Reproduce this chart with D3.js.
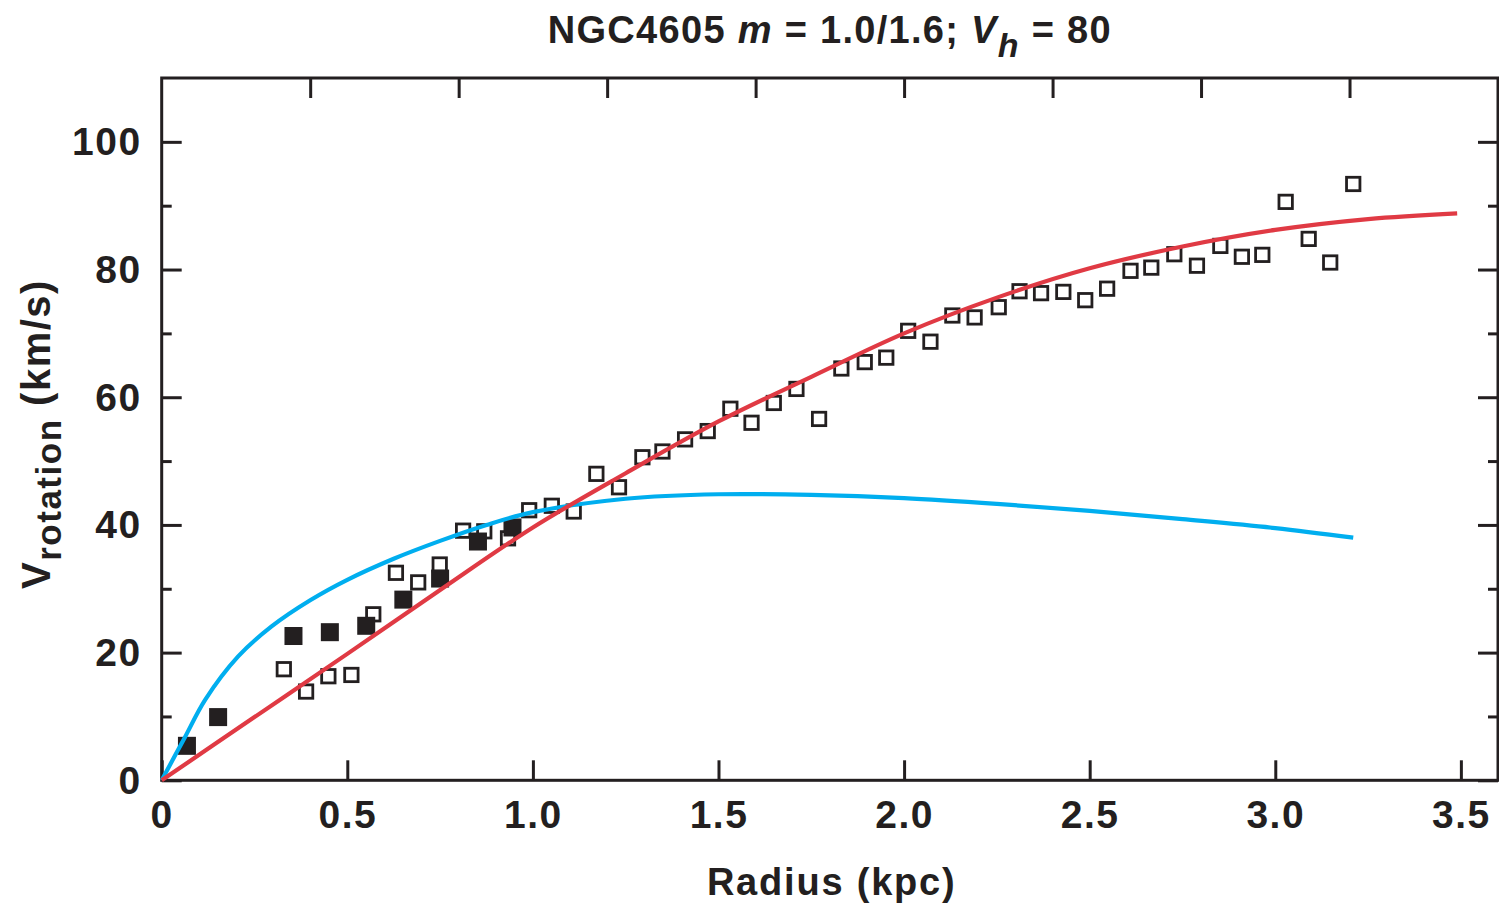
<!DOCTYPE html>
<html>
<head>
<meta charset="utf-8">
<script src="https://cdn.jsdelivr.net/npm/d3@7/dist/d3.min.js"></script>
<style>
  html, body { margin: 0; padding: 0; background: #ffffff; }
  svg text { font-family: "Liberation Sans", Arial, Helvetica, sans-serif; font-weight: bold; fill: #231f20; }
</style>
</head>
<body>
<svg id="chart" width="1499" height="906"></svg>
<script>
// ---- Data ----
const titleMain = "NGC4605 ";
const xTickValues = [0, 0.5, 1.0, 1.5, 2.0, 2.5, 3.0, 3.5];
const xTickLabels = ["0", "0.5", "1.0", "1.5", "2.0", "2.5", "3.0", "3.5"];
const xTopTickValues = [0.4, 0.8, 1.2, 1.6, 2.0, 2.4, 2.8, 3.2];
const yTickValues = [0, 20, 40, 60, 80, 100];
const yTickLabels = ["0", "20", "40", "60", "80", "100"];
const yMinorTickValues = [10, 30, 50, 70, 90];

// filled squares
const filledR = [0.068, 0.152, 0.355, 0.453, 0.551, 0.651, 0.750, 0.852, 0.945];
const filledV = [5.4, 9.9, 22.6, 23.2, 24.2, 28.3, 31.6, 37.4, 39.6];

// open squares
const openR = [0.329, 0.389, 0.449, 0.511, 0.570, 0.631, 0.691, 0.749, 0.812, 0.869,
  0.933, 0.990, 1.051, 1.110, 1.171, 1.232, 1.295, 1.349, 1.410, 1.471,
  1.532, 1.589, 1.649, 1.710, 1.771, 1.831, 1.894, 1.952, 2.011, 2.071,
  2.130, 2.190, 2.255, 2.311, 2.369, 2.429, 2.488, 2.547, 2.610, 2.666,
  2.728, 2.789, 2.852, 2.910, 2.965, 3.028, 3.090, 3.148, 3.210];
const openV = [17.4, 13.9, 16.3, 16.5, 26.0, 32.5, 31.0, 33.8, 39.1, 39.0,
  37.9, 42.3, 43.0, 42.1, 48.0, 45.9, 50.6, 51.5, 53.4, 54.7,
  58.2, 56.0, 59.1, 61.3, 56.6, 64.5, 65.5, 66.2, 70.4, 68.7,
  72.8, 72.5, 74.1, 76.6, 76.3, 76.5, 75.2, 77.0, 79.8, 80.3,
  82.4, 80.6, 83.7, 82.0, 82.3, 90.6, 84.8, 81.1, 93.4];

// model total (red)
const redR = [0, 0.25, 0.5, 0.75, 1.0, 1.25, 1.5, 1.75, 2.0, 2.25, 2.5, 2.75, 3.0, 3.25, 3.49];
const redV = [0, 9.9, 19.8, 29.8, 39.6, 48.1, 56.2, 63.2, 70.0, 75.6, 80.2, 83.6, 86.2, 87.9, 88.8];

// disk contribution (blue)
const blueR = [0, 0.063, 0.117, 0.206, 0.296, 0.4, 0.5, 0.625, 0.75, 0.875, 1.0, 1.25, 1.5, 1.75, 2.0, 2.25, 2.5, 2.75, 3.0, 3.21];
const blueV = [0, 6.8, 12.6, 19.4, 24.1, 28.2, 31.4, 34.7, 37.5, 40.0, 42.0, 44.1, 44.8, 44.7, 44.2, 43.3, 42.2, 40.9, 39.5, 38.0];

// ---- Layout ----
const L = 161.7, R = 1498, T = 78, B = 780.3;
const ink = "#231f20";
const svg = d3.select("#chart");

const x = d3.scaleLinear().domain([0, 3.6]).range([L, R]);
const y = d3.scaleLinear().domain([0, 110]).range([B, T]);

// Frame
svg.append("rect").attr("x", L).attr("y", T).attr("width", R - L).attr("height", B - T)
  .attr("fill", "none").attr("stroke", ink).attr("stroke-width", 3);

function styleAxis(g) {
  g.select(".domain").remove();
  g.selectAll(".tick line").attr("stroke", ink).attr("stroke-width", 3);
}

// bottom axis (labels)
const gx = svg.append("g").attr("transform", `translate(0,${B})`)
  .call(d3.axisBottom(x).tickValues(xTickValues).tickSize(-20).tickSizeOuter(0)
    .tickFormat((d, i) => xTickLabels[i]));
styleAxis(gx);
gx.selectAll(".tick text").attr("y", 48).attr("dy", 0)
  .style("font-size", "39px").style("letter-spacing", "1.5px").attr("fill", ink);

// top axis (ticks only)
const gt = svg.append("g").attr("transform", `translate(0,${T})`)
  .call(d3.axisTop(x).tickValues(xTopTickValues).tickSize(-20).tickSizeOuter(0).tickFormat(""));
styleAxis(gt);

// left axis
const gy = svg.append("g").attr("transform", `translate(${L},0)`)
  .call(d3.axisLeft(y).tickValues(yTickValues).tickSize(-20).tickSizeOuter(0).tickPadding(20)
    .tickFormat((d, i) => yTickLabels[i]));
styleAxis(gy);
gy.selectAll(".tick text").attr("dy", "0.33em")
  .style("font-size", "39px").style("letter-spacing", "1.5px").attr("fill", ink);
const gy2 = svg.append("g").attr("transform", `translate(${L},0)`)
  .call(d3.axisLeft(y).tickValues(yMinorTickValues).tickSize(-10).tickSizeOuter(0).tickFormat(""));
styleAxis(gy2);

// right axis
const gr = svg.append("g").attr("transform", `translate(${R},0)`)
  .call(d3.axisRight(y).tickValues(yTickValues).tickSize(-20).tickSizeOuter(0).tickFormat(""));
styleAxis(gr);
const gr2 = svg.append("g").attr("transform", `translate(${R},0)`)
  .call(d3.axisRight(y).tickValues(yMinorTickValues).tickSize(-10).tickSizeOuter(0).tickFormat(""));
styleAxis(gr2);

// Open squares
const so = 13.4;
svg.append("g").selectAll("rect").data(openR.map((r, i) => [r, openV[i]])).join("rect")
  .attr("x", d => x(d[0]) - so / 2).attr("y", d => y(d[1]) - so / 2)
  .attr("width", so).attr("height", so)
  .attr("fill", "white").attr("stroke", ink).attr("stroke-width", 2.8);

// Filled squares
const sf = 18;
svg.append("g").selectAll("rect").data(filledR.map((r, i) => [r, filledV[i]])).join("rect")
  .attr("x", d => x(d[0]) - sf / 2).attr("y", d => y(d[1]) - sf / 2)
  .attr("width", sf).attr("height", sf).attr("fill", ink);

// Curves
const line = d3.line().x(d => x(d[0])).y(d => y(d[1])).curve(d3.curveCatmullRom.alpha(0.5));
svg.append("path").datum(blueR.map((r, i) => [r, blueV[i]]))
  .attr("d", line).attr("fill", "none").attr("stroke", "#00aeef").attr("stroke-width", 4.2)
  .attr("stroke-linecap", "butt");
svg.append("path").datum(redR.map((r, i) => [r, redV[i]]))
  .attr("d", line).attr("fill", "none").attr("stroke", "#e03a44").attr("stroke-width", 4.2)
  .attr("stroke-linecap", "butt");

// Title
const title = svg.append("text").attr("x", (L + R) / 2).attr("y", 42.5)
  .attr("text-anchor", "middle").style("font-size", "38px").style("letter-spacing", "1.3px");
title.append("tspan").text(titleMain);
title.append("tspan").style("font-style", "italic").text("m");
title.append("tspan").text(" = 1.0/1.6; ");
title.append("tspan").style("font-style", "italic").text("V");
title.append("tspan").style("font-style", "italic").style("font-size", "34px").attr("dy", 14).text("h");
title.append("tspan").attr("dy", -14).text(" = 80");

// X axis title
svg.append("text").attr("x", 831.7).attr("y", 895).attr("text-anchor", "middle")
  .style("font-size", "38px").style("letter-spacing", "1.8px").text("Radius (kpc)");

// Y axis title
const yt = svg.append("text").attr("transform", "translate(50,434) rotate(-90)")
  .attr("text-anchor", "middle").style("font-size", "40px").style("letter-spacing", "1.5px");
yt.append("tspan").text("V");
yt.append("tspan").style("font-size", "35px").attr("dy", 11).text("rotation");
yt.append("tspan").attr("dy", -11).text(" (km/s)");
</script>
</body>
</html>
